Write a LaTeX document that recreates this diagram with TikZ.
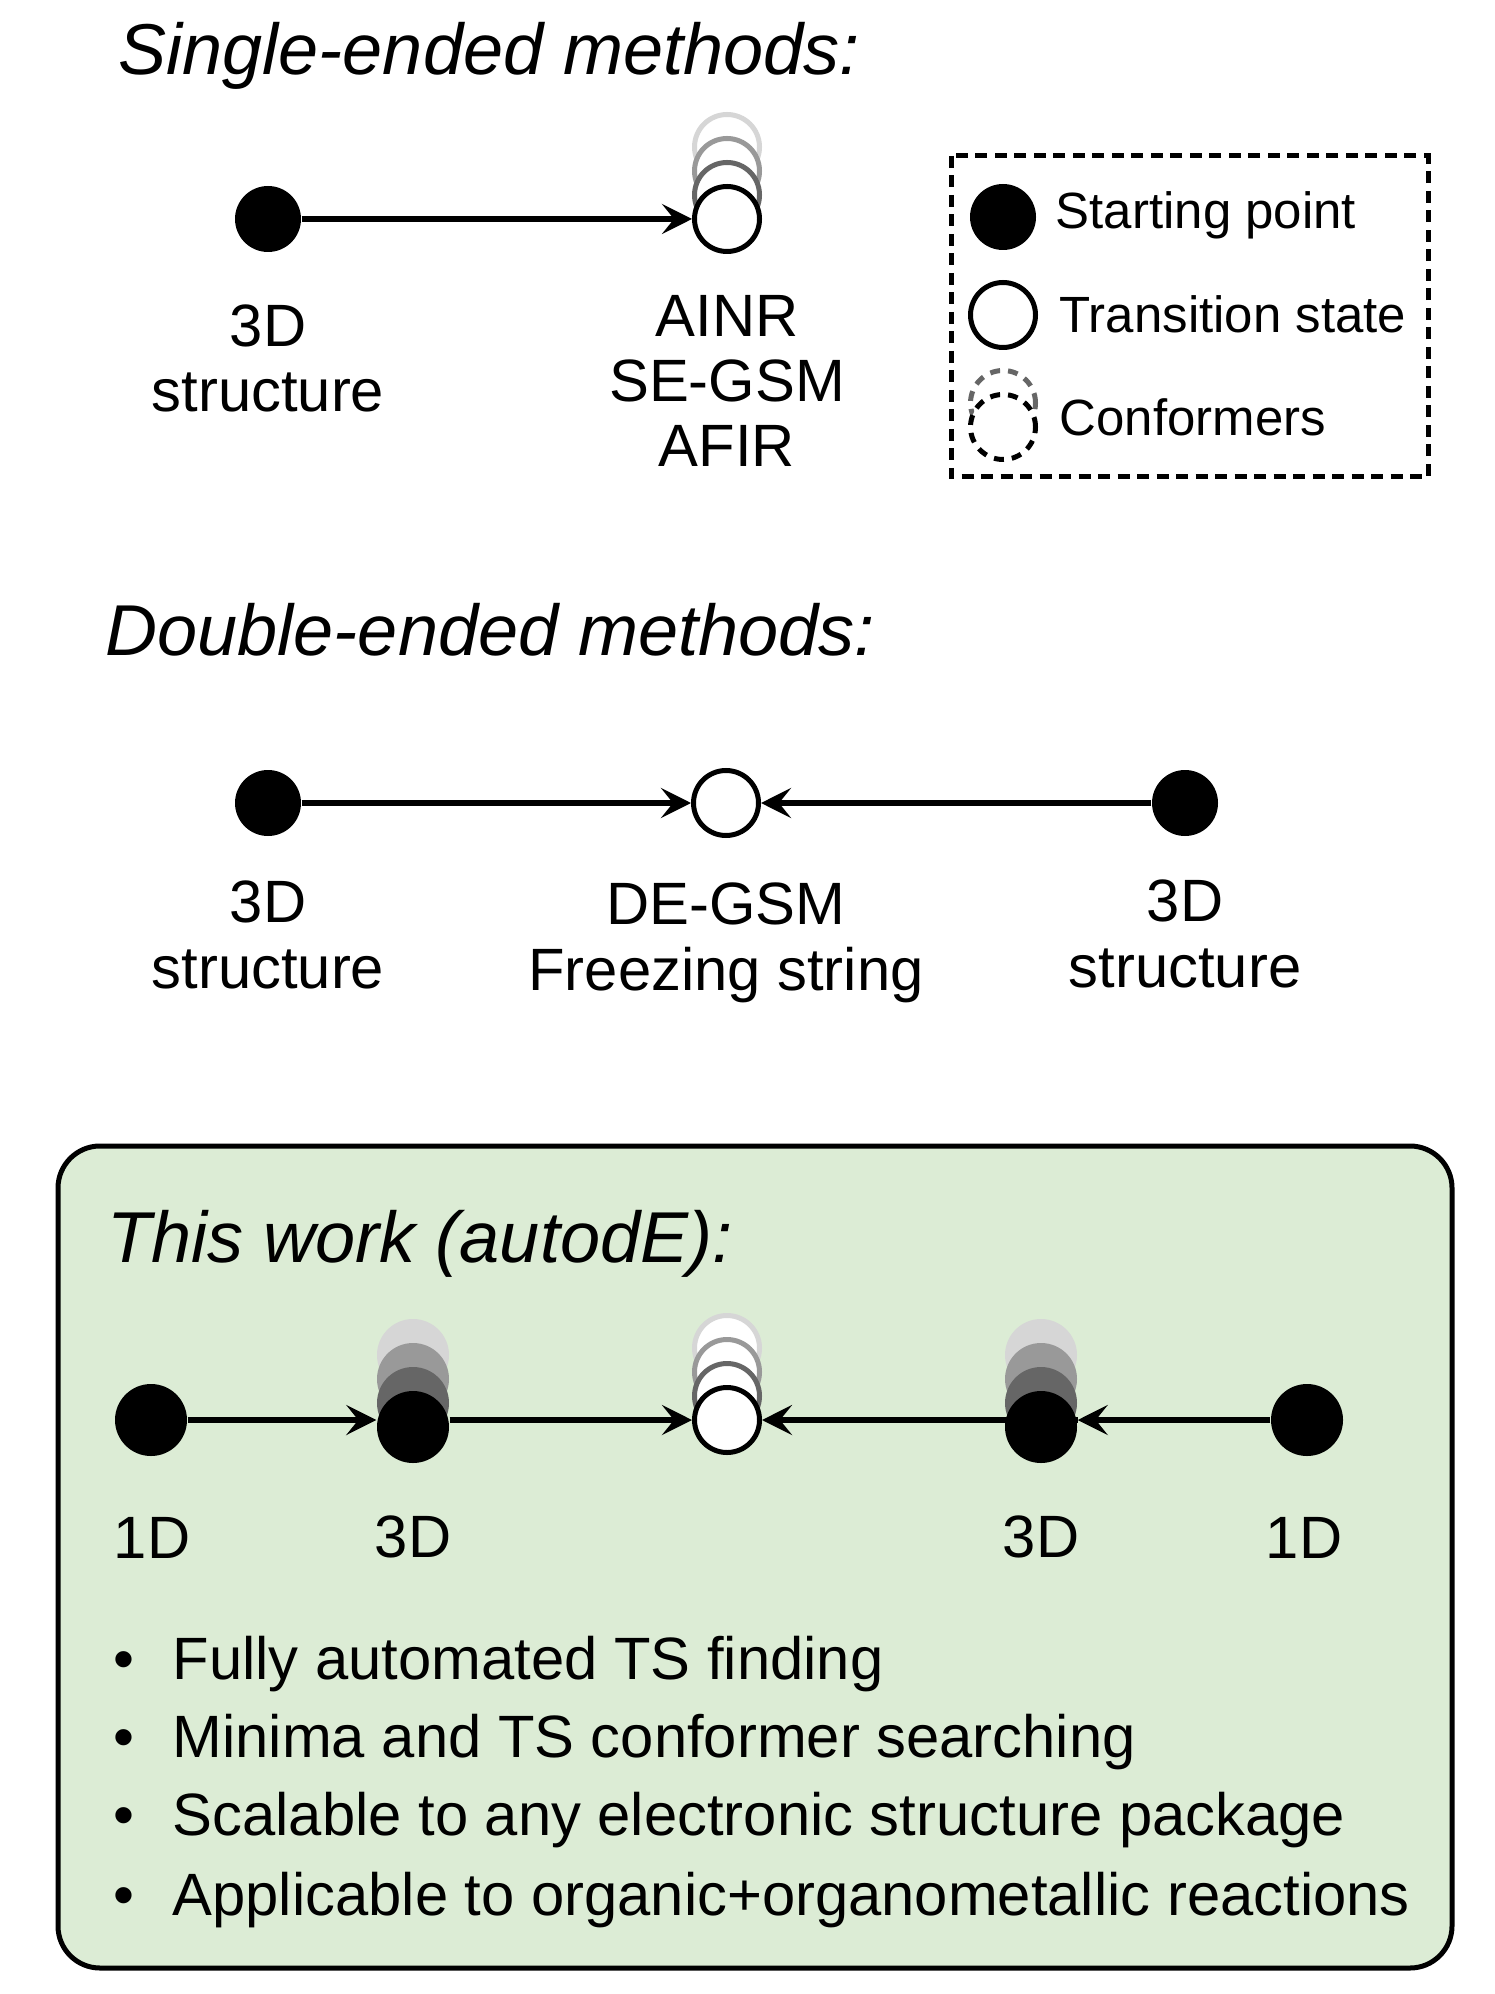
\documentclass[tikz,border=0pt]{standalone}
\usepackage{fontspec}
\setmainfont{Liberation Sans}
\usetikzlibrary{arrows.meta}
\definecolor{boxgreen}{RGB}{220,236,213}
\definecolor{confA}{RGB}{102,102,102}
\definecolor{confB}{RGB}{153,153,153}
\definecolor{confC}{RGB}{214,214,214}
\begin{document}
\begin{tikzpicture}[x=0.1mm,y=-0.1mm,
  spt/.style={circle,fill=black,minimum size=6.6mm,inner sep=0pt},
  bigspt/.style={circle,fill=black,minimum size=7.2mm,inner sep=0pt},
  tst/.style={circle,draw=black,fill=white,line width=0.5mm,minimum size=6.5mm,inner sep=0pt},
  tsconf/.style={tst,draw=#1},
  fconf/.style={bigspt,fill=#1},
  dconf/.style={tst,draw=#1,dash pattern=on 1.0mm off 0.8mm},
  arr/.style={line width=0.6mm,-{Stealth[length=3mm,width=3mm,inset=1.2mm]}},
  ttl/.style={anchor=base west,inner sep=0pt,font=\fontsize{20.5}{24}\selectfont\itshape},
  lbl/.style={anchor=base,inner sep=0pt,align=center,font=\fontsize{17}{18.6}\selectfont},
  lgd/.style={anchor=base west,inner sep=0pt,font=\fontsize{14.5}{17}\selectfont},
  itm/.style={anchor=base west,inner sep=0pt,font=\fontsize{17}{20}\selectfont}]
\useasboundingbox (0,0) rectangle (1494,1994);
% single-ended
\node[ttl] (T1) at (118,75) {Single-ended methods:};
\node[spt] (A1) at (268,219) {};
\node[tsconf=confC] (C1c) at (727,147) {};
\node[tsconf=confB] (C1b) at (727,171) {};
\node[tsconf=confA] (C1a) at (727,195) {};
\node[tst] (S1) at (727,219) {};
\draw[arr] (A1) -- (S1);
\node[lbl] (LA1) at (268,412) {3D\\structure};
\node[lbl] (LS1) at (727,467) {AINR\\SE-GSM\\AFIR};
% legend
\draw[line width=0.5mm,dash pattern=on 1.2mm off 0.75mm] (951,156) rectangle (1428,477);
\node[spt] (G1) at (1003,217) {};
\node[tst] (G2) at (1003,315) {};
\node[dconf=confA] (G3b) at (1003,403) {};
\node[dconf=black] (G3) at (1003,427) {};
\node[lgd] (LG1) at (1055,229) {Starting point};
\node[lgd] (LG2) at (1059,333) {Transition state};
\node[lgd] (LG3) at (1059,436) {Conformers};
% double-ended
\node[ttl] (T2) at (105,655) {Double-ended methods:};
\node[spt] (A2) at (268,803) {};
\node[tst] (S2) at (726,803) {};
\node[spt] (B2) at (1185,803) {};
\draw[arr] (A2) -- (S2);
\draw[arr] (B2) -- (S2);
\node[lbl] (LA2) at (268,988) {3D\\structure};
\node[lbl] (LS2) at (726,990) {DE-GSM\\Freezing string};
\node[lbl] (LB2) at (1185,987) {3D\\structure};
% this work
\draw[line width=0.5mm,fill=boxgreen,rounded corners=4.2mm] (58,1146) rectangle (1452,1968);
\node[ttl] (T3) at (107,1262) {This work (autodE):};
\node[bigspt] (D1) at (151,1420) {};
\node[fconf=confC] (D2c) at (413,1355) {};
\node[fconf=confB] (D2b) at (413,1379) {};
\node[fconf=confA] (D2a) at (413,1403) {};
\node[bigspt] (D2) at (413,1427) {};
\node[tsconf=confC] (S3c) at (727,1348) {};
\node[tsconf=confB] (S3b) at (727,1372) {};
\node[tsconf=confA] (S3a) at (727,1396) {};
\node[tst] (S3) at (727,1420) {};
\node[fconf=confC] (D4c) at (1041,1355) {};
\node[fconf=confB] (D4b) at (1041,1379) {};
\node[fconf=confA] (D4a) at (1041,1403) {};
\node[bigspt] (D4) at (1041,1427) {};
\node[bigspt] (D5) at (1307,1420) {};
\draw[arr] (D1) -- (D1 -| D2.west);
\draw[arr] (D2.east |- S3) -- (S3);
\draw[arr] (D4.east |- S3) -- (S3);
\draw[arr] (D5) -- (D5 -| D4.east);
\node[lbl] (LD1) at (152,1558) {1D};
\node[lbl] (LD2) at (413,1557) {3D};
\node[lbl] (LD4) at (1041,1557) {3D};
\node[lbl] (LD5) at (1304,1558) {1D};
\node[itm] (I1) at (113,1679) {\makebox[5.9mm][l]{•}Fully automated TS finding};
\node[itm] (I2) at (113,1757) {\makebox[5.9mm][l]{•}Minima and TS conformer searching};
\node[itm] (I3) at (113,1835) {\makebox[5.9mm][l]{•}Scalable to any electronic structure package};
\node[itm] (I4) at (113,1915) {\makebox[5.9mm][l]{•}Applicable to organic+organometallic reactions};
\end{tikzpicture}
\end{document}
